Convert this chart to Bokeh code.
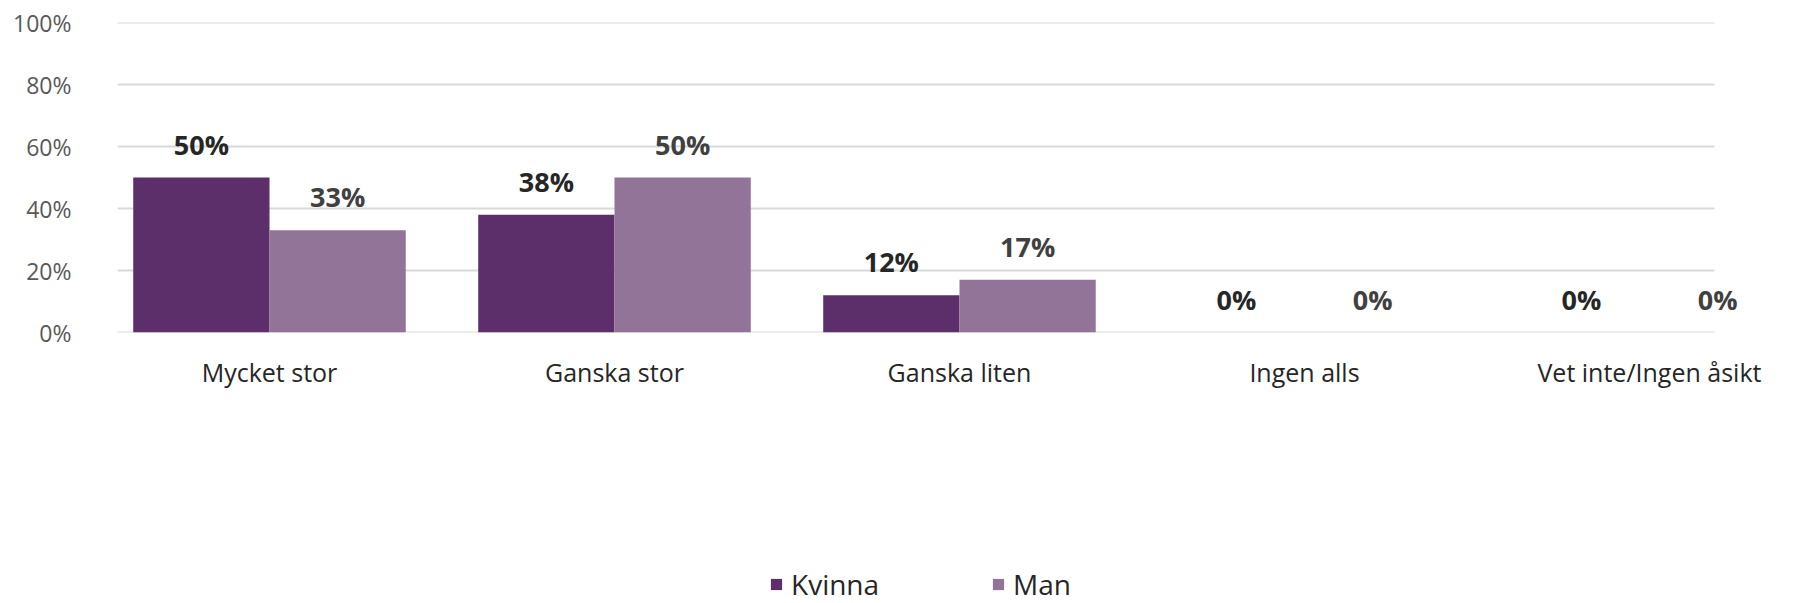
from bokeh.plotting import figure
from bokeh.layouts import column
from bokeh.models import ColumnDataSource, Range1d, FixedTicker, PrintfTickFormatter, LabelSet, Legend, LegendItem
from bokeh.transform import dodge
from bokeh.core.properties import value
from bokeh.embed import file_html
from bokeh.resources import INLINE

categories = ["Mycket stor", "Ganska stor", "Ganska liten", "Ingen alls", "Vet inte/Ingen åsikt"]
kvinna = [50, 38, 12, 0, 0]
man = [33, 50, 17, 0, 0]
series_names = ["Kvinna", "Man"]
y_ticks = [0, 20, 40, 60, 80, 100]

FONT = "Open Sans"
C_K = "#5c2f6b"
C_M = "#927499"

pos = list(range(len(categories)))
src = ColumnDataSource(dict(
    x=pos, kvinna=kvinna, man=man,
    kl=[f"{v}%" for v in kvinna], ml=[f"{v}%" for v in man],
))

x_start, x_end = -0.4406, 4.461
grid_end = 4.188

p = figure(width=1808, height=560, output_backend="svg", toolbar_location=None,
           x_range=Range1d(x_start, x_end), y_range=Range1d(0, 100),
           min_border_left=117, min_border_right=0, min_border_top=22, min_border_bottom=228)
p.outline_line_color = None
p.xgrid.grid_line_color = None
p.ygrid.grid_line_color = None

# gridlines
p.segment(x0=[x_start] * len(y_ticks), x1=[grid_end] * len(y_ticks), y0=y_ticks, y1=y_ticks,
          line_color="#d9d9d9", line_width=2)

bw = 0.395
rk = p.vbar(x=dodge("x", -bw / 2, range=p.x_range), top="kvinna", width=bw, source=src,
            fill_color=C_K, line_color=None)
rm = p.vbar(x=dodge("x", bw / 2, range=p.x_range), top="man", width=bw, source=src,
            fill_color=C_M, line_color=None)

for col, lab, off, colr in [("kvinna", "kl", -bw / 2, "#262626"), ("man", "ml", bw / 2, "#404040")]:
    ls = LabelSet(x=dodge("x", off, range=p.x_range), y=col, text=lab, source=src,
                  y_offset=23, text_align="center", text_baseline="alphabetic",
                  text_font=value(FONT), text_font_style="bold", text_font_size="27px",
                  text_color=colr)
    p.add_layout(ls)

# axes
p.yaxis.ticker = FixedTicker(ticks=y_ticks)
p.yaxis.formatter = PrintfTickFormatter(format="%d%%")
p.yaxis.axis_line_color = None
p.yaxis.major_tick_line_color = None
p.yaxis.minor_tick_line_color = None
p.yaxis.major_tick_out = 0
p.yaxis.major_label_standoff = 46
p.yaxis.major_label_text_font = FONT
p.yaxis.major_label_text_font_size = "23px"
p.yaxis.major_label_text_color = "#595959"

p.xaxis.ticker = FixedTicker(ticks=pos)
p.xaxis.major_label_overrides = {i: c for i, c in zip(pos, categories)}
p.xaxis.axis_line_color = None
p.xaxis.major_tick_line_color = None
p.xaxis.minor_tick_line_color = None
p.xaxis.major_tick_out = 0
p.xaxis.major_label_standoff = 22
p.xaxis.major_label_text_font = FONT
p.xaxis.major_label_text_font_size = "25px"
p.xaxis.major_label_text_color = "#262626"

# legend strip below the chart (frame aligned with the main plot's frame)
lf = figure(width=1808, height=43, output_backend="svg", toolbar_location=None,
            min_border=0, x_axis_type=None, y_axis_type=None,
            x_range=Range1d(0, 1), y_range=Range1d(0, 1))
lf.outline_line_color = None
lf.grid.grid_line_color = None
swatch = ColumnDataSource(dict(x=[0.5], top=[0]))
lk = lf.vbar(x="x", top="top", width=0.01, source=swatch, fill_color=C_K, line_color=None)
lm = lf.vbar(x="x", top="top", width=0.01, source=swatch, fill_color=C_M, line_color=None)
legend = Legend(items=[LegendItem(label=series_names[0], renderers=[lk]),
                       LegendItem(label=series_names[1], renderers=[lm])],
                location=(652, 0), orientation="horizontal",
                padding=0, margin=0, spacing=0, label_width=200,
                glyph_width=14, glyph_height=14, label_standoff=8,
                border_line_color=None, background_fill_alpha=0,
                label_text_font=FONT, label_text_font_size="28px", label_text_color="#262626")
lf.add_layout(legend, "center")

layout = column(p, lf, spacing=0)
open("out.html", "w").write(file_html(layout, INLINE))
